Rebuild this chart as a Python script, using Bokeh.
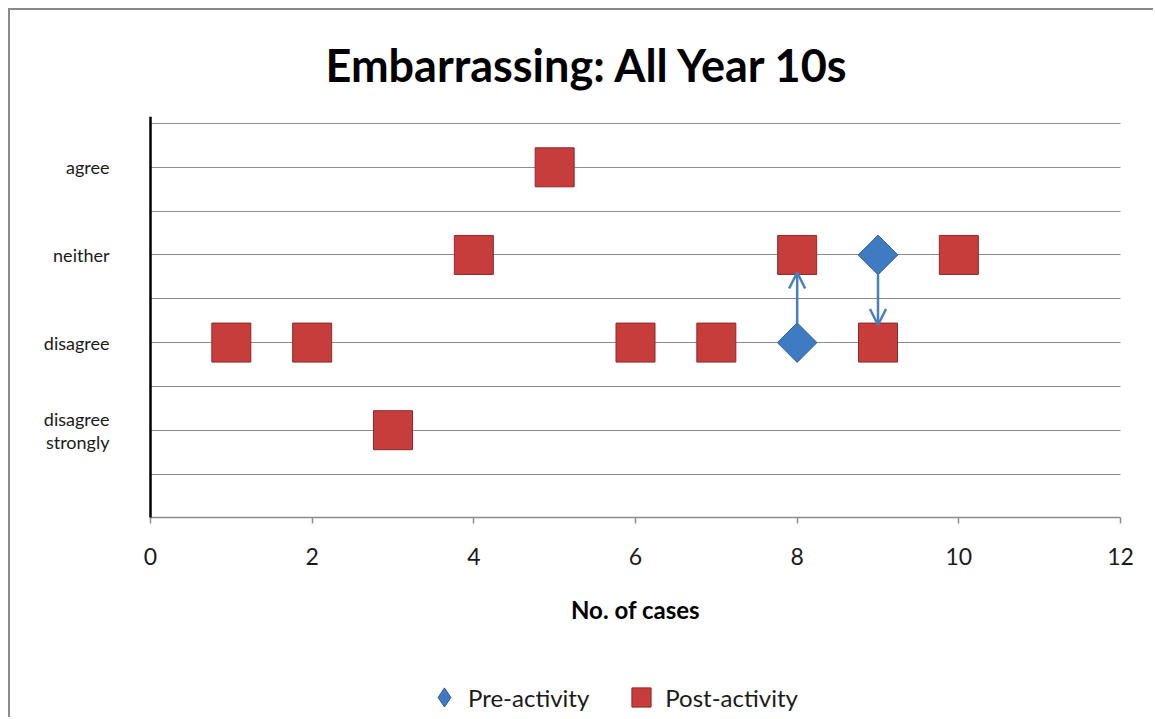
import numpy as np
from bokeh.plotting import figure
from bokeh.models import (Range1d, FixedTicker, Arrow, OpenHead, Legend, LinearAxis,
                          LegendItem, ColumnDataSource)
from bokeh.embed import file_html
from bokeh.resources import INLINE

# ---------------- data ----------------
title_text = "Embarrassing: All Year 10s"
x_label = "No. of cases"
series_names = ["Pre-activity", "Post-activity"]

post_cases = [1, 2, 3, 4, 5, 6, 7, 8, 9, 10]
post_values = [2, 2, 1, 3, 4, 2, 2, 3, 2, 3]

pre_cases = [8, 9]
pre_values = [2, 3]

category_names = ["disagree\nstrongly", "disagree", "neither", "agree"]
category_values = [1, 2, 3, 4]

x_ticks = [0, 2, 4, 6, 8, 10, 12]
grid_values = [0.5, 1, 1.5, 2, 2.5, 3, 3.5, 4, 4.5]

# ---------------- layout / styles ----------------
RED = "#c63d3b"
RED_EDGE = "#8e2a28"
BLUE = "#3f7bc2"
BLUE_EDGE = "#2c5c96"
ARROW = "#4a7ebb"
GRID = "#8c8c8c"
FONT = "Lato"

W, H = 1145, 709
X_MIN, X_MAX = 0, 12
LEFT_PX, RIGHT_PX = 140, 1110     # canvas x of value 0 and 12
PAD_PX = 22                        # frame extends a little beyond 0 and 12
TOP_PX = 105                       # canvas y of the top of the plotting area
AXIS_PX = 507                      # canvas y of the x axis (value 0)
Y_TOP = 4.58

xpu = (RIGHT_PX - LEFT_PX) / (X_MAX - X_MIN)
ypu = (AXIS_PX - TOP_PX) / Y_TOP
x_range = Range1d(X_MIN - PAD_PX / xpu, X_MAX + PAD_PX / xpu)
y_range = Range1d(-(H - AXIS_PX) / ypu, Y_TOP)

p = figure(width=W, height=H, output_backend="svg", toolbar_location=None,
           x_range=x_range, y_range=y_range,
           min_border_left=LEFT_PX - PAD_PX, min_border_right=W - RIGHT_PX - PAD_PX,
           min_border_top=TOP_PX, min_border_bottom=0)
p.margin = (8, 0, 0, 8)
p.styles = {"border-left": "2px solid #8a8a8a", "border-top": "2px solid #8a8a8a"}
p.outline_line_color = None
p.background_fill_color = "white"
p.border_fill_color = "white"

# title
p.title.text = title_text
p.title.align = "left"
p.title.text_font = FONT
p.title.text_font_size = "45px"
p.title.text_font_style = "bold"
p.title.text_color = "black"
p.title.offset = 175 + PAD_PX
p.title.standoff = 50

# x axis, drawn at value 0
p.xaxis.fixed_location = 0
p.xaxis.bounds = (X_MIN, X_MAX)
p.xaxis.ticker = FixedTicker(ticks=x_ticks)
p.xaxis.axis_line_color = GRID
p.xaxis.axis_line_width = 1.5
p.xaxis.major_tick_line_color = GRID
p.xaxis.major_tick_line_width = 1.5
p.xaxis.major_tick_out = 6
p.xaxis.major_tick_in = 0
p.xaxis.minor_tick_line_color = None
p.xaxis.major_label_text_font = FONT
p.xaxis.major_label_text_font_size = "23px"
p.xaxis.major_label_text_color = "#1a1a1a"
p.xaxis.major_label_standoff = 24
p.xaxis.axis_label = x_label
p.xaxis.axis_label_text_font = FONT
p.xaxis.axis_label_text_font_size = "24px"
p.xaxis.axis_label_text_font_style = "bold"
p.xaxis.axis_label_text_color = "black"
p.xaxis.axis_label_standoff = 27

# y axis (labels only) in the left panel
p.yaxis.ticker = FixedTicker(ticks=category_values)
p.yaxis.major_label_overrides = dict(zip(category_values, category_names))
p.yaxis.axis_line_color = None
p.yaxis.major_tick_line_color = None
p.yaxis.minor_tick_line_color = None
p.yaxis.major_label_text_font = FONT
p.yaxis.major_label_text_font_size = "18px"
p.yaxis.major_label_text_color = "#1a1a1a"
p.yaxis.major_label_text_line_height = 1.05
p.yaxis.major_label_standoff = 13

# black axis line at x = 0
yline = LinearAxis(fixed_location=X_MIN, bounds=(0, Y_TOP), ticker=FixedTicker(ticks=[]),
                   axis_line_color="black", axis_line_width=2.5,
                   major_tick_line_color=None, minor_tick_line_color=None)
p.add_layout(yline, "left")

# horizontal grid every half step between 0 and 12
p.xgrid.grid_line_color = None
g = p.ygrid[0]
g.ticker = FixedTicker(ticks=grid_values)
g.grid_line_color = GRID
g.grid_line_width = 1.2
if "cross_bounds" in g.properties():
    g.cross_bounds = (X_MIN, X_MAX)
else:
    g.grid_line_color = None
    p.segment(x0=[X_MIN] * len(grid_values), x1=[X_MAX] * len(grid_values),
              y0=grid_values, y1=grid_values, line_color=GRID, line_width=1.2)

# points
post_src = ColumnDataSource(dict(x=post_cases, y=post_values))
pre_src = ColumnDataSource(dict(x=pre_cases, y=pre_values))

r_post = p.scatter("x", "y", source=post_src, marker="square", size=39,
                   fill_color=RED, line_color=RED_EDGE, line_width=1)
# diamond glyph (used for the legend swatch), fully covered by the rotated square
r_pre_leg = p.scatter("x", "y", source=pre_src, marker="diamond", size=34,
                      fill_color=BLUE, line_color=BLUE_EDGE, line_width=1)
r_pre = p.scatter("x", "y", source=pre_src, marker="square", angle=np.pi / 4,
                  size=28, fill_color=BLUE, line_color=BLUE_EDGE, line_width=1)

# arrows from pre to post for the same case
post_lookup = dict(zip(post_cases, post_values))
xs, ys, xe, ye = [], [], [], []
for c, v in zip(pre_cases, pre_values):
    t = post_lookup[c]
    d = float(np.sign(t - v))
    xs.append(c); ys.append(v + d * 0.22)
    xe.append(c); ye.append(t - d * 0.2)
arrow_src = ColumnDataSource(dict(xs=xs, ys=ys, xe=xe, ye=ye))
p.add_layout(Arrow(x_start="xs", y_start="ys", x_end="xe", y_end="ye", source=arrow_src,
                   line_color=ARROW, line_width=2.5,
                   end=OpenHead(size=16, line_color=ARROW, line_width=2.5)))

legend = Legend(items=[LegendItem(label=series_names[0], renderers=[r_pre_leg]),
                       LegendItem(label=series_names[1], renderers=[r_post])],
                orientation="horizontal", location=(270 + PAD_PX, -2),
                label_text_font=FONT, label_text_font_size="24px",
                label_text_color="#1a1a1a",
                glyph_width=48, glyph_height=48, label_standoff=-2, spacing=28,
                padding=0, margin=0, border_line_color=None,
                background_fill_alpha=0)
p.add_layout(legend)

open("out.html", "w").write(file_html(p, INLINE))
